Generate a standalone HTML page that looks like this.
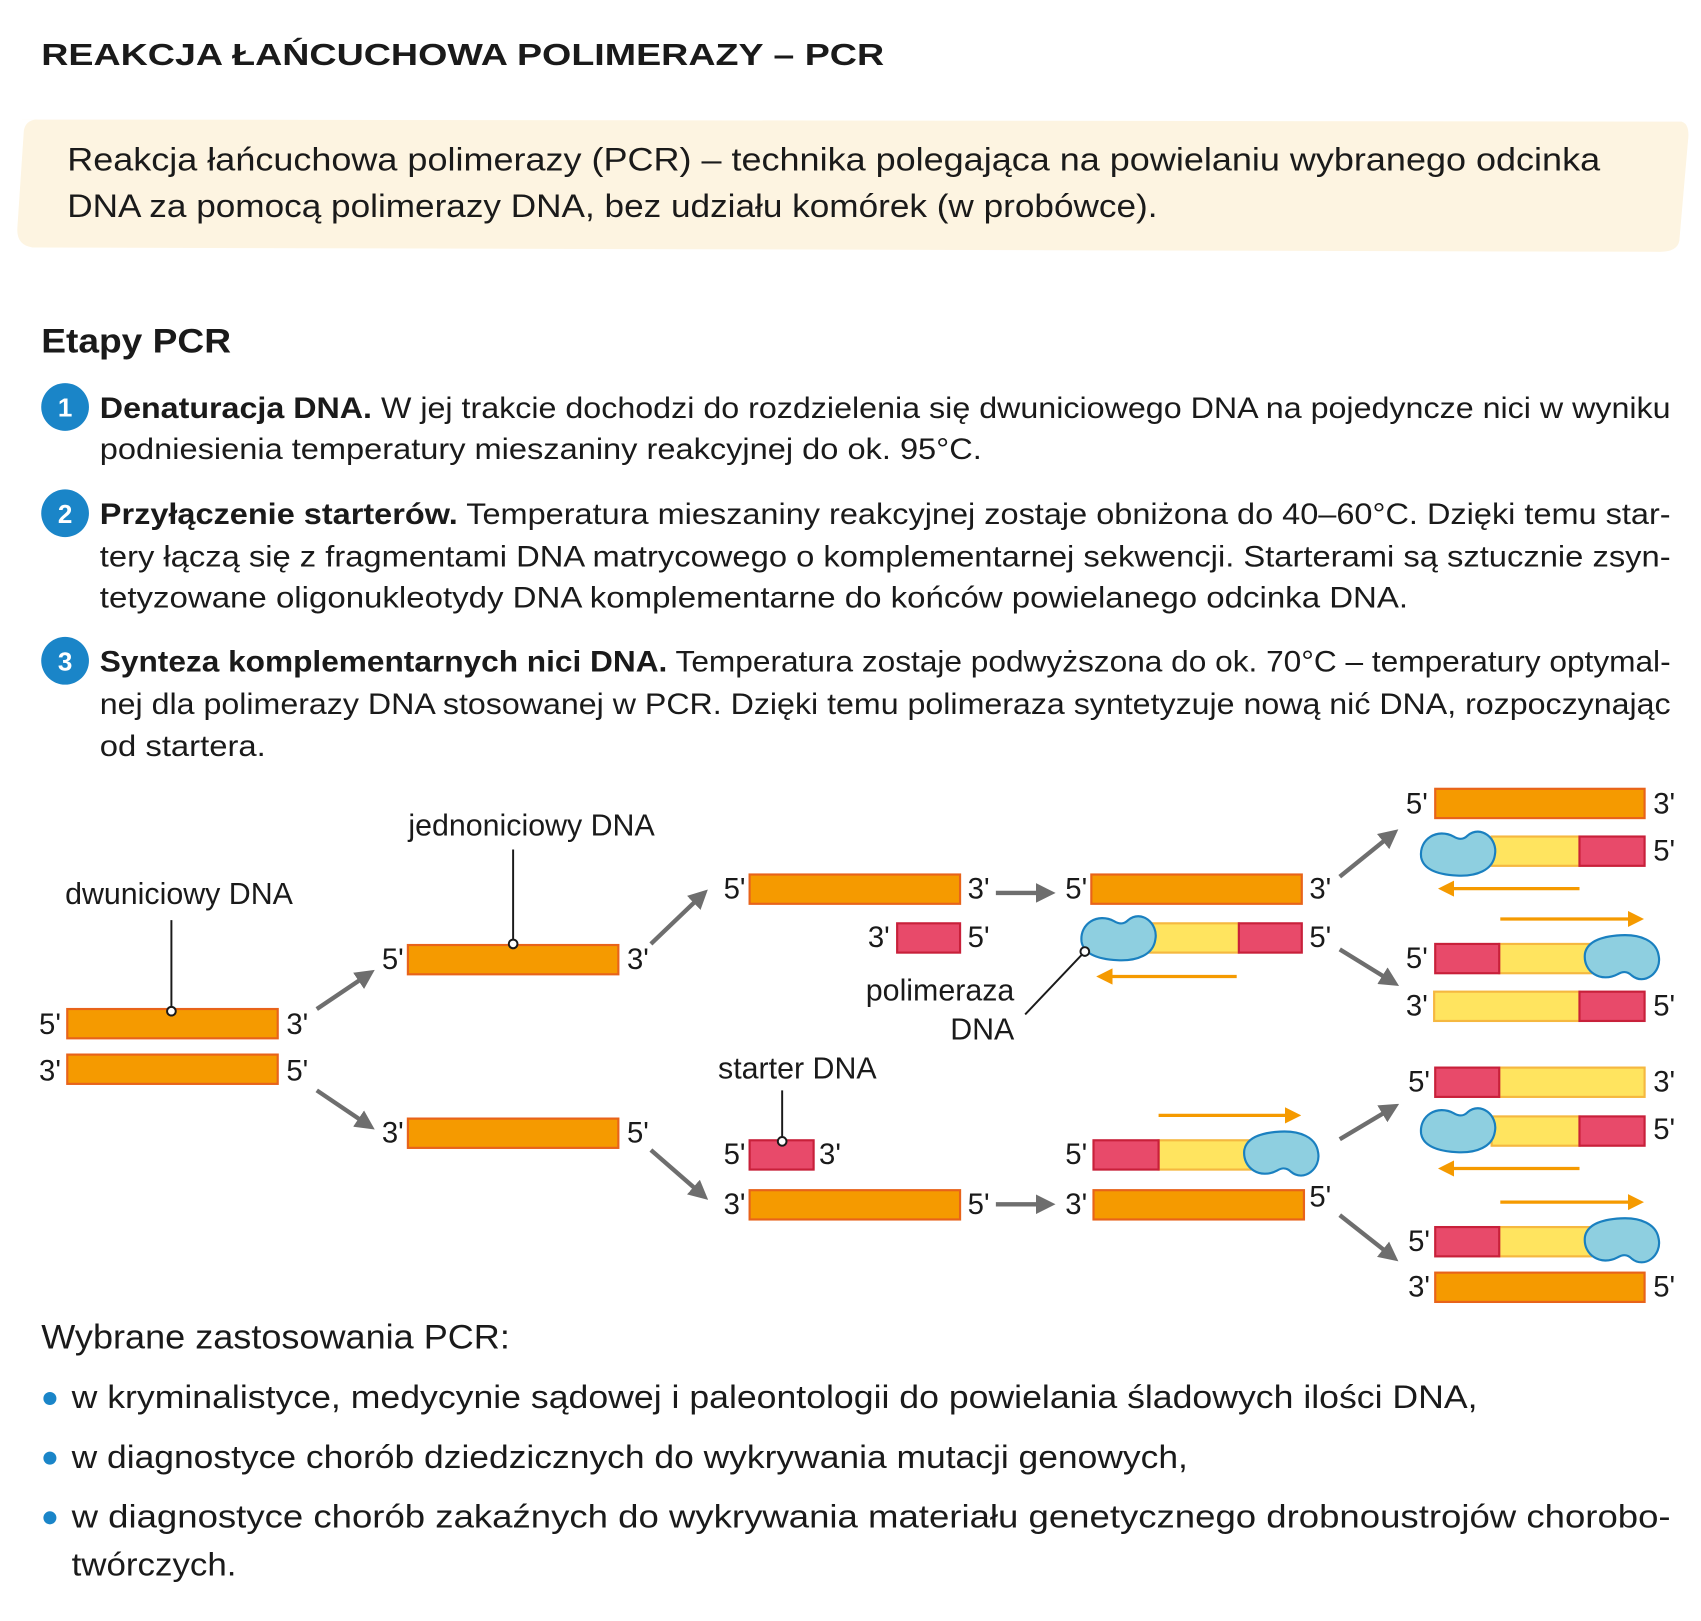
<!DOCTYPE html>
<html><head><meta charset="utf-8"><style>
html,body{margin:0;padding:0;background:#fff}
svg{display:block}
text{font-family:"Liberation Sans",sans-serif;fill:#1a1a1a}
.lb{font-size:27px}
.t{font-size:27px}
</style></head><body>
<svg width="1701" height="1621" viewBox="0 0 1568 1494" xmlns="http://www.w3.org/2000/svg">
<defs>
<marker id="g" viewBox="0 0 10 10" refX="5" refY="5" markerWidth="4.5" markerHeight="4.5" orient="auto"><path d="M0,0 L10,5 L0,10 z" fill="#6e6e6e"/></marker>
<marker id="o" viewBox="0 0 10 10" refX="5" refY="5" markerWidth="5" markerHeight="5" orient="auto"><path d="M0,0 L10,5 L0,10 z" fill="#f59a00"/></marker>
<path id="bean" d="M-33 5 C-35 -12 -18 -22 -3 -14 C2 -11 6 -11 10 -15 C22 -25 38 -12 35 3 C33 17 18 23 0 22 C-18 21 -31 16 -33 5 Z" fill="#8ecfe0" stroke="#1a80c0" stroke-width="2"/>
</defs>
<text x="38" y="60" font-size="28" font-weight="bold" textLength="777" lengthAdjust="spacingAndGlyphs">REAKCJA ŁAŃCUCHOWA POLIMERAZY – PCR</text>
<path d="M20 110 L1550 112 Q1558 114 1556 130 L1548 222 Q1546 232 1530 232 L30 228 Q15 226 16 210 L22 120 Q24 110 35 110 Z" fill="#fdf4e1"/>
<text x="62" y="157" font-size="30" textLength="1413" lengthAdjust="spacingAndGlyphs">Reakcja łańcuchowa polimerazy (PCR) – technika polegająca na powielaniu wybranego odcinka</text>
<text x="62" y="200" font-size="30" textLength="1005" lengthAdjust="spacingAndGlyphs">DNA za pomocą polimerazy DNA, bez udziału komórek (w probówce).</text>
<text x="38" y="325" font-size="32" font-weight="bold" textLength="175" lengthAdjust="spacingAndGlyphs">Etapy PCR</text>

<g font-size="26">
<circle cx="60" cy="375" r="22" fill="#1a85c8"/><text x="60" y="384" text-anchor="middle" font-weight="bold" font-size="24" style="fill:#fff">1</text>
<text class="t" x="92" y="385" textLength="1448" lengthAdjust="spacingAndGlyphs"><tspan font-weight="bold">Denaturacja DNA.</tspan> W jej trakcie dochodzi do rozdzielenia się dwuniciowego DNA na pojedyncze nici w wyniku</text>
<text class="t" x="92" y="423" textLength="813" lengthAdjust="spacingAndGlyphs">podniesienia temperatury mieszaniny reakcyjnej do ok. 95°C.</text>
<circle cx="60" cy="473" r="22" fill="#1a85c8"/><text x="60" y="482" text-anchor="middle" font-weight="bold" font-size="24" style="fill:#fff">2</text>
<text class="t" x="92" y="483" textLength="1448" lengthAdjust="spacingAndGlyphs"><tspan font-weight="bold">Przyłączenie starterów.</tspan> Temperatura mieszaniny reakcyjnej zostaje obniżona do 40–60°C. Dzięki temu star-</text>
<text class="t" x="92" y="522" textLength="1448" lengthAdjust="spacingAndGlyphs">tery łączą się z fragmentami DNA matrycowego o komplementarnej sekwencji. Starterami są sztucznie zsyn-</text>
<text class="t" x="92" y="560" textLength="1206" lengthAdjust="spacingAndGlyphs">tetyzowane oligonukleotydy DNA komplementarne do końców powielanego odcinka DNA.</text>
<circle cx="60" cy="609" r="22" fill="#1a85c8"/><text x="60" y="618" text-anchor="middle" font-weight="bold" font-size="24" style="fill:#fff">3</text>
<text class="t" x="92" y="619" textLength="1448" lengthAdjust="spacingAndGlyphs"><tspan font-weight="bold">Synteza komplementarnych nici DNA.</tspan> Temperatura zostaje podwyższona do ok. 70°C – temperatury optymal-</text>
<text class="t" x="92" y="658" textLength="1448" lengthAdjust="spacingAndGlyphs">nej dla polimerazy DNA stosowanej w PCR. Dzięki temu polimeraza syntetyzuje nową nić DNA, rozpoczynając</text>
<text class="t" x="92" y="697" textLength="153" lengthAdjust="spacingAndGlyphs">od startera.</text>
</g>

<!-- diagram -->
<g stroke-width="2">
<!-- ds DNA -->
<rect x="62" y="930" width="194" height="27" fill="#f59a00" stroke="#e8631a"/>
<rect x="62" y="972" width="194" height="27" fill="#f59a00" stroke="#e8631a"/>
<!-- singles -->
<rect x="376" y="871" width="194" height="27" fill="#f59a00" stroke="#e8631a"/>
<rect x="376" y="1031" width="194" height="27" fill="#f59a00" stroke="#e8631a"/>
<rect x="691" y="806" width="194" height="27" fill="#f59a00" stroke="#e8631a"/>
<rect x="827" y="851" width="58" height="27" fill="#e84a6a" stroke="#c8203a"/>
<rect x="691" y="1051" width="59" height="27" fill="#e84a6a" stroke="#c8203a"/>
<rect x="691" y="1097" width="194" height="27" fill="#f59a00" stroke="#e8631a"/>
<!-- col4 -->
<rect x="1006" y="806" width="194" height="27" fill="#f59a00" stroke="#e8631a"/>
<rect x="1040" y="851" width="102" height="27" fill="#ffe45f" stroke="#f5b840"/>
<rect x="1142" y="851" width="58" height="27" fill="#e84a6a" stroke="#c8203a"/>
<rect x="1068" y="1051" width="102" height="27" fill="#ffe45f" stroke="#f5b840"/>
<rect x="1008" y="1051" width="60" height="27" fill="#e84a6a" stroke="#c8203a"/>
<rect x="1008" y="1097" width="194" height="27" fill="#f59a00" stroke="#e8631a"/>
<!-- col5 -->
<rect x="1323" y="727" width="193" height="27" fill="#f59a00" stroke="#e8631a"/>
<rect x="1375" y="771" width="81" height="27" fill="#ffe45f" stroke="#f5b840"/>
<rect x="1456" y="771" width="60" height="27" fill="#e84a6a" stroke="#c8203a"/>
<rect x="1382" y="870" width="108" height="27" fill="#ffe45f" stroke="#f5b840"/>
<rect x="1323" y="870" width="59" height="27" fill="#e84a6a" stroke="#c8203a"/>
<rect x="1322" y="914" width="134" height="27" fill="#ffe45f" stroke="#f5b840"/>
<rect x="1456" y="914" width="60" height="27" fill="#e84a6a" stroke="#c8203a"/>
<rect x="1382" y="984" width="134" height="27" fill="#ffe45f" stroke="#f5b840"/>
<rect x="1323" y="984" width="59" height="27" fill="#e84a6a" stroke="#c8203a"/>
<rect x="1375" y="1029" width="81" height="27" fill="#ffe45f" stroke="#f5b840"/>
<rect x="1456" y="1029" width="60" height="27" fill="#e84a6a" stroke="#c8203a"/>
<rect x="1382" y="1131" width="108" height="27" fill="#ffe45f" stroke="#f5b840"/>
<rect x="1323" y="1131" width="59" height="27" fill="#e84a6a" stroke="#c8203a"/>
<rect x="1323" y="1173" width="193" height="27" fill="#f59a00" stroke="#e8631a"/>
</g>
<!-- beans -->
<use href="#bean" transform="translate(1030,863)"/>
<use href="#bean" transform="translate(1180,1065) scale(1,-1)"/>
<use href="#bean" transform="translate(1343,785)"/>
<use href="#bean" transform="translate(1494,884) scale(1,-1)"/>
<use href="#bean" transform="translate(1343,1040)"/>
<use href="#bean" transform="translate(1494,1145) scale(1,-1)"/>

<!-- pointer lines -->
<g stroke="#1a1a1a" stroke-width="1.8" fill="#fff">
<line x1="158" y1="848" x2="158" y2="932"/><circle cx="158" cy="932" r="4"/>
<line x1="473" y1="783" x2="473" y2="870"/><circle cx="473" cy="870" r="4"/>
<line x1="721" y1="1005" x2="721" y2="1052"/><circle cx="721" cy="1052" r="4"/>
<line x1="945" y1="935" x2="1000" y2="877"/><circle cx="1000" cy="877" r="4"/>
</g>
<!-- gray arrows -->
<g stroke="#6e6e6e" stroke-width="4" marker-end="url(#g)">
<line x1="292" y1="930" x2="338" y2="899"/>
<line x1="292" y1="1005" x2="338" y2="1036"/>
<line x1="600" y1="870" x2="646" y2="826"/>
<line x1="600" y1="1060" x2="646" y2="1100"/>
<line x1="918" y1="823" x2="964" y2="823"/>
<line x1="918" y1="1110" x2="964" y2="1110"/>
<line x1="1235" y1="808" x2="1282" y2="770"/>
<line x1="1235" y1="875" x2="1282" y2="904"/>
<line x1="1235" y1="1050" x2="1282" y2="1022"/>
<line x1="1235" y1="1120" x2="1282" y2="1157"/>
</g>
<!-- orange arrows -->
<g stroke="#f59a00" stroke-width="3" marker-end="url(#o)">
<line x1="1140" y1="900" x2="1018" y2="900"/>
<line x1="1068" y1="1028" x2="1192" y2="1028"/>
<line x1="1456" y1="819" x2="1333" y2="819"/>
<line x1="1383" y1="847" x2="1508" y2="847"/>
<line x1="1456" y1="1077" x2="1333" y2="1077"/>
<line x1="1383" y1="1108" x2="1508" y2="1108"/>
</g>
<!-- labels -->
<g class="lb" font-size="27">
<text x="165" y="833" text-anchor="middle" font-size="28">dwuniciowy DNA</text>
<text x="490" y="770" text-anchor="middle" font-size="28">jednoniciowy DNA</text>
<text x="735" y="994" text-anchor="middle" font-size="28">starter DNA</text>
<text x="935" y="922" text-anchor="end" font-size="28">polimeraza</text>
<text x="935" y="958" text-anchor="end" font-size="28">DNA</text>
<text x="36" y="953">5'</text><text x="264" y="953">3'</text>
<text x="36" y="996">3'</text><text x="264" y="996">5'</text>
<text x="352" y="893">5'</text><text x="578" y="893">3'</text>
<text x="352" y="1053">3'</text><text x="578" y="1053">5'</text>
<text x="667" y="828">5'</text><text x="892" y="828">3'</text>
<text x="800" y="873">3'</text><text x="892" y="873">5'</text>
<text x="667" y="1073">5'</text><text x="755" y="1073">3'</text>
<text x="667" y="1119">3'</text><text x="892" y="1119">5'</text>
<text x="982" y="828">5'</text><text x="1207" y="828">3'</text>
<text x="1207" y="873">5'</text>
<text x="982" y="1073">5'</text>
<text x="982" y="1119">3'</text><text x="1207" y="1112">5'</text>
<text x="1296" y="750">5'</text><text x="1524" y="750">3'</text>
<text x="1524" y="793">5'</text>
<text x="1296" y="892">5'</text>
<text x="1296" y="936">3'</text><text x="1524" y="936">5'</text>
<text x="1298" y="1006">5'</text><text x="1524" y="1006">3'</text>
<text x="1524" y="1050">5'</text>
<text x="1298" y="1153">5'</text>
<text x="1298" y="1195">3'</text><text x="1524" y="1195">5'</text>
</g>

<text x="38" y="1243" font-size="32" textLength="432" lengthAdjust="spacingAndGlyphs">Wybrane zastosowania PCR:</text>
<g font-size="30">
<circle cx="46" cy="1289" r="6" fill="#1a85c8"/>
<text x="66" y="1298" textLength="1296" lengthAdjust="spacingAndGlyphs">w kryminalistyce, medycynie sądowej i paleontologii do powielania śladowych ilości DNA,</text>
<circle cx="46" cy="1344" r="6" fill="#1a85c8"/>
<text x="66" y="1353" textLength="1029" lengthAdjust="spacingAndGlyphs">w diagnostyce chorób dziedzicznych do wykrywania mutacji genowych,</text>
<circle cx="46" cy="1399" r="6" fill="#1a85c8"/>
<text x="66" y="1408" textLength="1474" lengthAdjust="spacingAndGlyphs">w diagnostyce chorób zakaźnych do wykrywania materiału genetycznego drobnoustrojów chorobo-</text>
<text x="66" y="1452" textLength="152" lengthAdjust="spacingAndGlyphs">twórczych.</text>
</g>
</svg>
</body></html>
